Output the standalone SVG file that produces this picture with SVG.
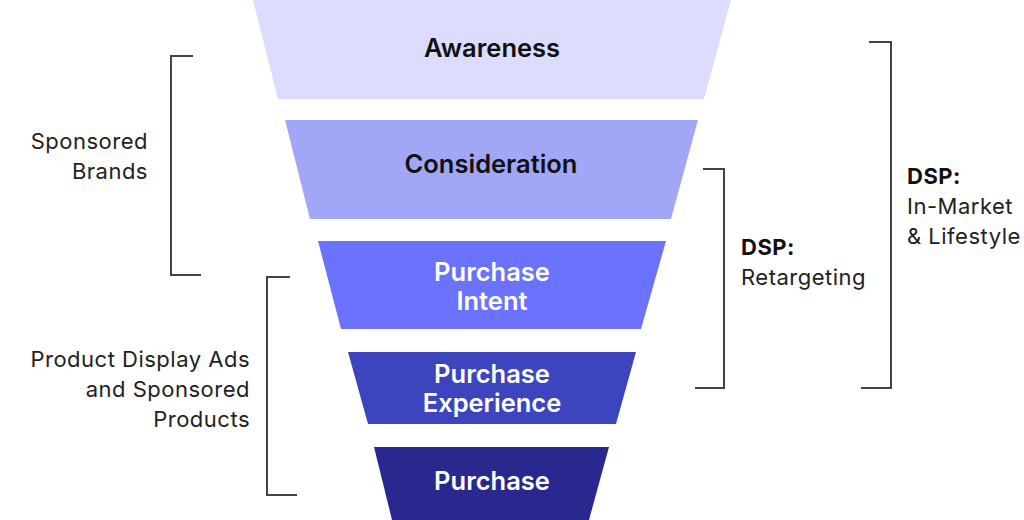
<svg xmlns="http://www.w3.org/2000/svg" width="1024" height="520" viewBox="0 0 1024 520">
<style>
.lbl{font-family:Inter,"Liberation Sans",sans-serif;font-size:25.5px;font-weight:600;text-anchor:middle}
.dark{fill:#111}
.light{fill:#fff}
.side{font-family:Inter,"Liberation Sans",sans-serif;font-size:22px;letter-spacing:0.5px;fill:#222}
.r{text-anchor:end}
.b{font-weight:700;fill:#111}
.br{fill:none;stroke:#444;stroke-width:2}
</style>
<rect width="1024" height="520" fill="#fff"/>
<g id="awareness">
<polygon points="253,0 731,0 704,99 278,99" fill="#DCDCFE"/>
<text class="lbl dark" x="492" y="57">Awareness</text>
</g>
<g id="consideration">
<polygon points="285,120 698,120 671,219 310,219" fill="#A1A6F7"/>
<text class="lbl dark" x="491" y="173">Consideration</text>
</g>
<g id="purchase-intent">
<polygon points="318,241 666,241 641,329 341,329" fill="#6A72FE"/>
<text class="lbl light" x="492" y="281">Purchase</text>
<text class="lbl light" x="492" y="310">Intent</text>
</g>
<g id="purchase-experience">
<polygon points="348,352 636,352 616,424 368,424" fill="#3D45BE"/>
<text class="lbl light" x="492" y="383">Purchase</text>
<text class="lbl light" x="492" y="412">Experience</text>
</g>
<g id="purchase">
<polygon points="374,447 609,447 589,520 392,520" fill="#28288E"/>
<text class="lbl light" x="492" y="490">Purchase</text>
</g>
<g id="connectors">
<polyline class="br" points="193,56 171,56 171,275 201,275"/>
<polyline class="br" points="290,277 267,277 267,495 297,495"/>
<polyline class="br" points="703,169 724,169 724,388 695,388"/>
<polyline class="br" points="869,42 891,42 891,388 861,388"/>
</g>
<g id="sponsored-brands">
<text class="side r" x="148" y="149">Sponsored</text>
<text class="side r" x="148" y="179">Brands</text>
</g>
<g id="product-display">
<text class="side r" x="250" y="367">Product Display Ads</text>
<text class="side r" x="250" y="397">and Sponsored</text>
<text class="side r" x="250" y="427">Products</text>
</g>
<g id="dsp-retargeting">
<text class="side b" x="741" y="255">DSP:</text>
<text class="side" x="741" y="285">Retargeting</text>
</g>
<g id="dsp-inmarket">
<text class="side b" x="907" y="184">DSP:</text>
<text class="side" x="907" y="214">In-Market</text>
<text class="side" x="907" y="244">&amp; Lifestyle</text>
</g>
</svg>
